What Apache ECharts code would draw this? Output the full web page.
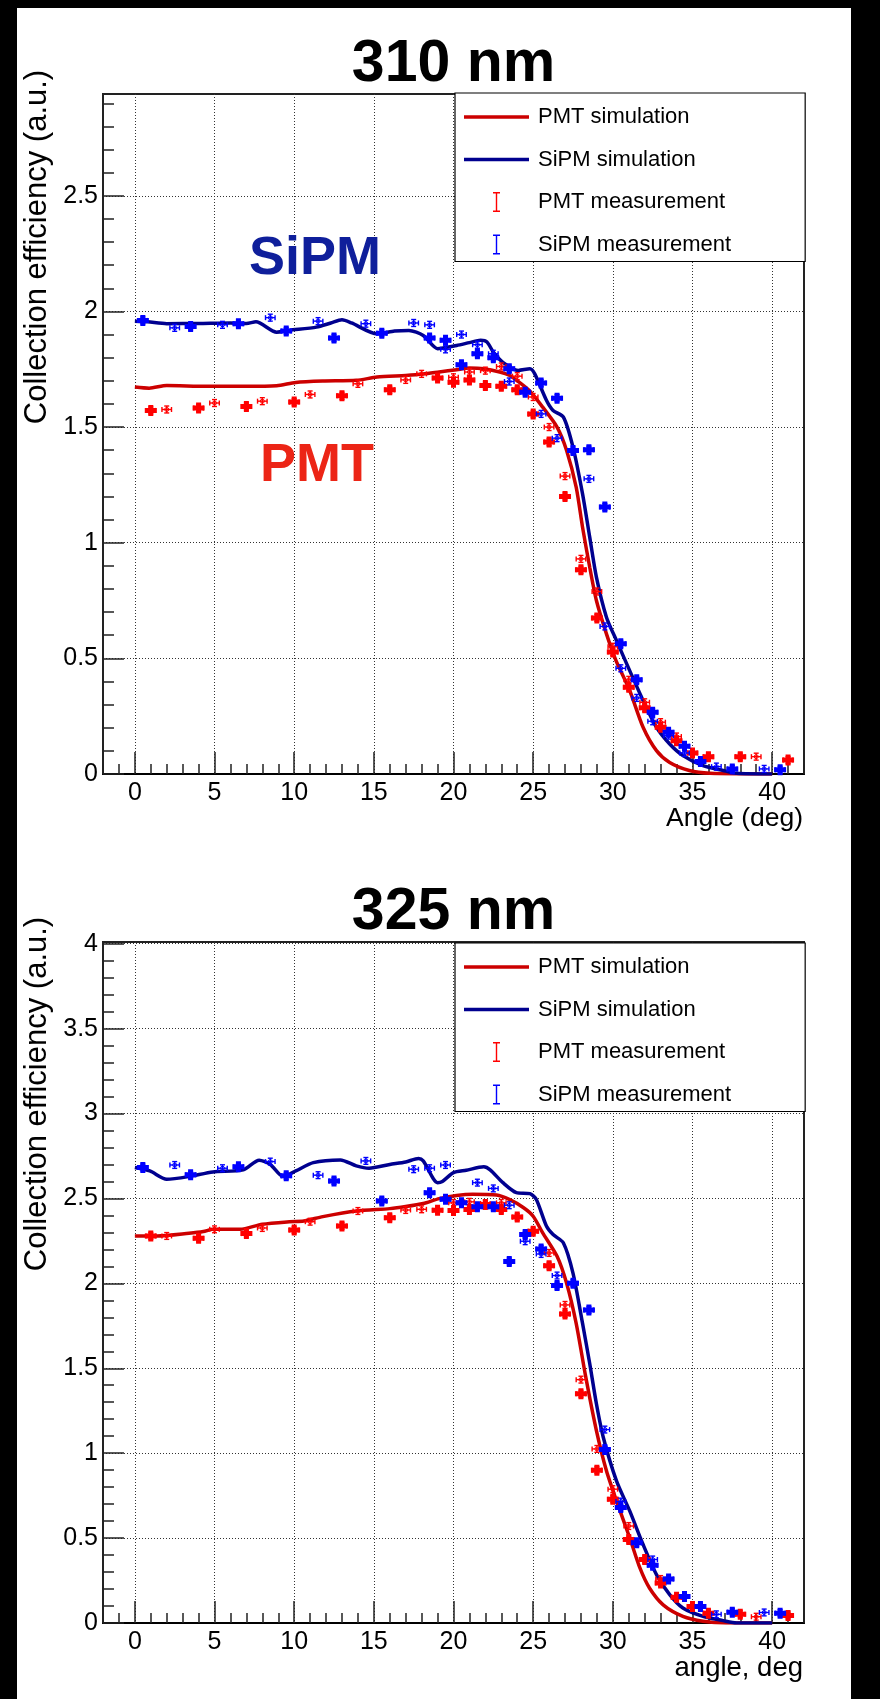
<!DOCTYPE html>
<html>
<head>
<meta charset="utf-8">
<title>Collection efficiency vs angle</title>
<script src="https://cdn.jsdelivr.net/npm/echarts@6/dist/echarts.min.js"></script>
<style>
  html, body { margin: 0; padding: 0; width: 880px; height: 1699px; background: #000; overflow: hidden; }
  #paper { position: absolute; left: 17px; top: 8px; width: 834px; height: 1691px; background: #fff; }
  #chart { position: absolute; left: 0; top: 0; width: 880px; height: 1699px; }
</style>
</head>
<body>
<div id="paper"></div>
<div id="chart"></div>
<script>
// ---------- axis ticks ----------
const angleMajor = [0, 5, 10, 15, 20, 25, 30, 35, 40];
const eff310Major = [0, 0.5, 1, 1.5, 2, 2.5];
const eff325Major = [0, 0.5, 1, 1.5, 2, 2.5, 3, 3.5, 4];

// ---------- 310 nm ----------
const pmtSim310 = [[0,1.673],[0.9,1.668],[2,1.68],[4.5,1.676],[7,1.676],[8.9,1.679],[10.1,1.693],[11.8,1.699],[13.9,1.702],[15.2,1.716],[17,1.723],[18.1,1.729],[19.1,1.738],[20.2,1.748],[21.0,1.755],[21.9,1.752],[22.9,1.738],[23.5,1.724],[24.0,1.700],[24.8,1.655],[25.6,1.586],[26.5,1.5],[27.1,1.399],[27.7,1.24],[28.1,1.067],[28.55,0.894],[28.97,0.75],[29.6,0.606],[30.2,0.49],[31.06,0.361],[31.9,0.202],[32.74,0.101],[33.57,0.05],[34.8,0.015],[36.1,0.003],[40,0]];
const sipmSim310 = [[0,1.958],[0.8,1.955],[2,1.947],[4,1.948],[6,1.950],[7.0,1.948],[7.6,1.955],[8.9,1.91],[9.7,1.918],[11.4,1.932],[12.3,1.950],[13.0,1.964],[13.6,1.950],[15.2,1.903],[16.3,1.915],[17.2,1.918],[18.1,1.896],[19.0,1.839],[20.2,1.853],[21.0,1.865],[21.7,1.875],[22.1,1.868],[22.5,1.824],[23.1,1.78],[24.06,1.745],[24.8,1.752],[25.1,1.73],[25.84,1.615],[26.25,1.572],[26.9,1.543],[27.5,1.413],[28.1,1.211],[28.55,1.024],[28.97,0.851],[29.6,0.678],[30.23,0.577],[31.06,0.447],[31.9,0.318],[32.74,0.202],[33.57,0.13],[34.4,0.08],[35.66,0.036],[36.92,0.015],[37.76,0.003],[40,0]];
const pmtMeasFilled310 = [[1,1.572],[4,1.582],[7,1.589],[10,1.608],[13,1.635],[16,1.661],[19,1.712],[20,1.694],[21,1.704],[22,1.68],[23,1.676],[24,1.661],[25,1.556],[26,1.435],[27,1.2],[28,0.883],[29,0.675],[30,0.527],[31,0.375],[32,0.286],[33,0.202],[34,0.144],[35,0.091],[36,0.075],[38,0.075],[41,0.06]];
const pmtMeasOpen310 = [[2,1.576],[5,1.604],[8,1.612],[11,1.641],[14,1.687],[17,1.704],[18,1.73],[20,1.715],[21,1.738],[22,1.744],[23,1.762],[24,1.72],[25,1.63],[26,1.5],[27,1.288],[28,0.93],[29,0.789],[30,0.55],[31,0.407],[32,0.31],[33,0.224],[34,0.162],[39,0.075]];
const sipmMeasFilled310 = [[0.5,1.961],[3.5,1.935],[6.5,1.947],[9.5,1.915],[12.5,1.885],[15.5,1.906],[18.5,1.885],[19.5,1.875],[20.5,1.769],[21.5,1.817],[22.5,1.80],[23.5,1.752],[24.5,1.651],[25.5,1.69],[26.5,1.625],[27.5,1.399],[28.5,1.402],[29.5,1.154],[30.5,0.563],[31.5,0.407],[32.5,0.267],[33.5,0.18],[34.5,0.12],[35.5,0.054],[37.5,0.022],[40.5,0.018]];
const sipmMeasOpen310 = [[2.5,1.929],[5.5,1.942],[8.5,1.973],[11.5,1.958],[14.5,1.947],[17.5,1.95],[18.5,1.942],[19.5,1.836],[20.5,1.9],[21.5,1.856],[22.5,1.817],[23.5,1.697],[25.5,1.557],[26.5,1.452],[28.5,1.276],[29.5,0.638],[30.5,0.457],[31.5,0.329],[32.5,0.228],[33.5,0.166],[34.5,0.091],[36.5,0.032],[39.5,0.022]];

// ---------- 325 nm ----------
const pmtSim325 = [[0,2.279],[1.4,2.279],[3.4,2.295],[4.3,2.305],[4.9,2.318],[6.6,2.318],[8,2.348],[9.7,2.363],[10.6,2.367],[11.8,2.393],[13.9,2.426],[16,2.44],[17,2.452],[18.1,2.47],[19.1,2.499],[20.2,2.517],[21.2,2.524],[22.7,2.52],[23.5,2.494],[24.4,2.445],[25,2.395],[25.6,2.297],[26.5,2.159],[27.1,2.0],[27.7,1.764],[28.3,1.449],[28.97,1.133],[29.6,0.896],[30.23,0.719],[31.06,0.502],[31.7,0.324],[32.3,0.206],[33.16,0.107],[34.4,0.039],[35.66,0.01],[37.1,0],[40,0]];
const sipmSim325 = [[0,2.682],[0.94,2.662],[2,2.613],[3.4,2.629],[4.9,2.656],[6.8,2.668],[7.8,2.725],[8.5,2.70],[9.3,2.629],[10.1,2.662],[11.2,2.711],[12.9,2.727],[13.9,2.692],[14.7,2.678],[16,2.70],[17,2.715],[17.8,2.735],[18.1,2.721],[19,2.593],[19.3,2.60],[20,2.652],[20.8,2.666],[21.9,2.686],[22.3,2.668],[23.1,2.593],[23.95,2.534],[24.8,2.528],[25.2,2.494],[25.84,2.336],[26.25,2.287],[26.9,2.238],[27.5,2.06],[28.1,1.764],[28.55,1.528],[28.97,1.291],[29.4,1.094],[30.23,0.837],[31.06,0.66],[31.9,0.462],[32.74,0.285],[33.57,0.167],[34.4,0.088],[35.66,0.039],[36.92,0.014],[37.76,0],[40,0]];
const pmtMeasFilled325 = [[1,2.279],[4,2.265],[7,2.293],[10,2.314],[13,2.338],[16,2.387],[19,2.43],[20,2.429],[21,2.435],[22,2.464],[23,2.435],[24,2.39],[25,2.307],[26,2.104],[27,1.82],[28,1.35],[29,0.9],[30,0.729],[31,0.492],[32,0.374],[33,0.236],[34,0.151],[35,0.097],[36,0.058],[38,0.052],[41,0.044]];
const pmtMeasOpen325 = [[2,2.279],[5,2.318],[8,2.326],[11,2.363],[14,2.426],[17,2.432],[18,2.436],[20,2.474],[21,2.48],[22,2.47],[23,2.474],[26,2.179],[27,1.873],[28,1.433],[29,1.025],[30,0.788],[31,0.571],[33,0.259],[39,0.037]];
const sipmMeasFilled325 = [[0.5,2.682],[3.5,2.639],[6.5,2.686],[9.5,2.633],[12.5,2.603],[15.5,2.485],[18.5,2.534],[19.5,2.495],[20.5,2.474],[21.5,2.451],[22.5,2.451],[23.5,2.129],[24.5,2.287],[25.5,2.202],[26.5,1.987],[27.5,2.001],[28.5,1.843],[29.5,1.021],[30.5,0.68],[31.5,0.472],[32.5,0.34],[33.5,0.259],[34.5,0.156],[35.5,0.097],[37.5,0.064],[40.5,0.058]];
const sipmMeasOpen325 = [[2.5,2.697],[5.5,2.678],[8.5,2.717],[11.5,2.637],[14.5,2.721],[17.5,2.672],[18.5,2.678],[19.5,2.697],[21.5,2.593],[22.5,2.559],[23.5,2.46],[24.5,2.248],[25.5,2.173],[26.5,2.046],[29.5,1.139],[30.5,0.715],[32.5,0.374],[36.5,0.051],[39.5,0.062]];

// ---------- styling ----------
const FONT = "'Liberation Sans', Arial, Helvetica, sans-serif";
const PMT_LINE = '#cc0000', SIPM_LINE = '#00008f';
const PMT_MEAS = '#ff0000', SIPM_MEAS = '#0000ff';
const X_ERR = 0.3;                      // horizontal error bar half-width (deg)
const CROSS = [[-2.5,-5.5],[2.5,-5.5],[2.5,-2.5],[6,-2.5],[6,2.5],[2.5,2.5],[2.5,5.5],[-2.5,5.5],[-2.5,2.5],[-6,2.5],[-6,-2.5],[-2.5,-2.5]];
// legend glyphs, padded to the 65x20 legend slot
const IBEAM = 'path://M0,10L0.01,10M65,10L64.99,10M29,0h7v1.4h-2.8v17.2h2.8v1.4h-7v-1.4h2.8v-17.2h-2.8z';
const LINE_ICON = 'path://M0,0L0.01,0M0,20L0.01,20M0,8.2h65v3.6h-65z';

const minorAngle = [];
for (let a = -2; a <= 42; a++) if (a % 5 !== 0) minorAngle.push(a);
function minorEff(top) {
  const out = [];
  for (let i = 1; i * 0.1 <= top + 1e-9; i++) if (i % 5 !== 0) out.push(+(i * 0.1).toFixed(1));
  return out;
}

const frames = [
  { top: 94,  height: 680, yMax: 2.94, major: eff310Major, minor: minorEff(2.94), xName: 'Angle (deg)', xNameSize: 26.5, yNameY: 247 },
  { top: 942, height: 681, yMax: 4.01, major: eff325Major, minor: minorEff(4.01), xName: 'angle, deg',  xNameSize: 27.5, yNameY: 1094 }
];

const grid = [], xAxis = [], yAxis = [], axisTitles = [];
frames.forEach((f, i) => {
  grid.push({ left: 103, top: f.top, width: 701, height: f.height, show: true,
              borderColor: '#222', borderWidth: 2, backgroundColor: 'transparent',
              containLabel: false, outerBoundsMode: 'none' });
  // main x axis: labels, major ticks, grid lines
  xAxis.push({
    gridIndex: i, type: 'value', min: -2, max: 42, position: 'bottom',
    axisLine: { show: true, onZero: false, lineStyle: { color: '#000', width: 2 } },
    axisTick: { show: true, inside: true, length: 22, customValues: angleMajor, lineStyle: { color: '#222', width: 1.5 } },
    axisLabel: { show: true, customValues: angleMajor, margin: 7, fontSize: 25, color: '#000', fontFamily: FONT },
    splitLine: { show: true, lineStyle: { color: '#333', width: 1, type: [1, 2] } }
  });
  // companion x axis carrying the 1-degree minor ticks
  xAxis.push({
    gridIndex: i, type: 'value', min: -2, max: 42, position: 'bottom',
    axisLine: { show: false, onZero: false },
    axisTick: { show: true, inside: true, length: 10, customValues: minorAngle, lineStyle: { color: '#222', width: 1.5 } },
    axisLabel: { show: false }, splitLine: { show: false }
  });
  yAxis.push({
    gridIndex: i, type: 'value', min: 0, max: f.yMax, position: 'left',
    axisLine: { show: true, onZero: false, lineStyle: { color: '#222', width: 2 } },
    axisTick: { show: true, inside: true, length: 21, customValues: f.major, lineStyle: { color: '#222', width: 1.5 } },
    axisLabel: { show: true, customValues: f.major, margin: 5, fontSize: 25, color: '#000', fontFamily: FONT },
    splitLine: { show: true, lineStyle: { color: '#333', width: 1, type: [1, 2] } }
  });
  yAxis.push({
    gridIndex: i, type: 'value', min: 0, max: f.yMax, position: 'left',
    axisLine: { show: false, onZero: false },
    axisTick: { show: true, inside: true, length: 11, customValues: f.minor, lineStyle: { color: '#222', width: 1.5 } },
    axisLabel: { show: false }, splitLine: { show: false }
  });
  // axis titles, ROOT style: x title right-aligned under the frame, y title rotated at the left
  axisTitles.push({
    type: 'text', x: 803, y: f.top + f.height + 45, silent: true,
    style: { text: f.xName, fill: '#000', font: f.xNameSize + "px 'Liberation Sans', Arial, sans-serif", textAlign: 'right', textVerticalAlign: 'middle' }
  });
  axisTitles.push({
    type: 'text', x: 37, y: f.yNameY, rotation: Math.PI / 2, silent: true,
    style: { text: 'Collection efficiency (a.u.)', fill: '#000', font: "31px 'Liberation Sans', Arial, sans-serif", textAlign: 'center', textVerticalAlign: 'middle' }
  });
});

function simSeries(name, data, color, gi) {
  return { name, type: 'line', xAxisIndex: gi * 2, yAxisIndex: gi * 2, data, symbol: 'none', showSymbol: false,
           smooth: 0.25, lineStyle: { color, width: 3.5 }, itemStyle: { color }, z: 2, silent: true };
}

function measSeries(name, filledPts, openPts, yErr, color, gi) {
  const data = filledPts.map(p => [p[0], p[1], 1]).concat(openPts.map(p => [p[0], p[1], 0]));
  return {
    name, type: 'custom', xAxisIndex: gi * 2, yAxisIndex: gi * 2, data, z: 3, silent: true,
    itemStyle: { color }, encode: { x: 0, y: 1 },
    renderItem(params, api) {
      const x = api.value(0), y = api.value(1), filled = api.value(2);
      const c = api.coord([x, y]);
      const l = api.coord([x - X_ERR, y]), r = api.coord([x + X_ERR, y]);
      const t = api.coord([x, y + yErr]), b = api.coord([x, y - yErr]);
      const st = { stroke: color, lineWidth: 1.4 };
      const ch = [
        { type: 'line', shape: { x1: l[0], y1: c[1], x2: r[0], y2: c[1] }, style: st },
        { type: 'line', shape: { x1: l[0], y1: c[1] - 2.5, x2: l[0], y2: c[1] + 2.5 }, style: st },
        { type: 'line', shape: { x1: r[0], y1: c[1] - 2.5, x2: r[0], y2: c[1] + 2.5 }, style: st },
        { type: 'line', shape: { x1: c[0], y1: t[1], x2: c[0], y2: b[1] }, style: st },
        { type: 'line', shape: { x1: c[0] - 2.5, y1: t[1], x2: c[0] + 2.5, y2: t[1] }, style: st },
        { type: 'line', shape: { x1: c[0] - 2.5, y1: b[1], x2: c[0] + 2.5, y2: b[1] }, style: st }
      ];
      if (filled) {
        ch.push({ type: 'polygon', shape: { points: CROSS.map(d => [c[0] + d[0], c[1] + d[1]]) }, style: { fill: color } });
      } else {
        ch.push({ type: 'circle', shape: { cx: c[0], cy: c[1], r: 2 }, style: { fill: 'none', stroke: color, lineWidth: 1 } });
      }
      return { type: 'group', children: ch };
    }
  };
}

const series = [
  simSeries('PMT simulation', pmtSim310, PMT_LINE, 0),
  simSeries('SiPM simulation', sipmSim310, SIPM_LINE, 0),
  measSeries('PMT measurement', pmtMeasFilled310, pmtMeasOpen310, 0.015, PMT_MEAS, 0),
  measSeries('SiPM measurement', sipmMeasFilled310, sipmMeasOpen310, 0.015, SIPM_MEAS, 0),
  simSeries('PMT simulation', pmtSim325, PMT_LINE, 1),
  simSeries('SiPM simulation', sipmSim325, SIPM_LINE, 1),
  measSeries('PMT measurement', pmtMeasFilled325, pmtMeasOpen325, 0.02, PMT_MEAS, 1),
  measSeries('SiPM measurement', sipmMeasFilled325, sipmMeasOpen325, 0.02, SIPM_MEAS, 1)
];

const legendData = [
  { name: 'PMT simulation', icon: LINE_ICON, itemStyle: { color: PMT_LINE } },
  { name: 'SiPM simulation', icon: LINE_ICON, itemStyle: { color: SIPM_LINE } },
  { name: 'PMT measurement', icon: IBEAM, itemStyle: { color: PMT_MEAS } },
  { name: 'SiPM measurement', icon: IBEAM, itemStyle: { color: SIPM_MEAS } }
];
const legend = [93, 943].map(top => ({
  left: 455, top, orient: 'vertical', selectedMode: false,
  backgroundColor: '#fff', borderColor: '#000', borderWidth: 1.2, borderRadius: 0,
  padding: [13, 74, 6, 9], itemGap: 20.5, itemWidth: 65, itemHeight: 20,
  textStyle: { fontSize: 22, color: '#000', fontFamily: FONT, lineHeight: 22, padding: [0, 0, 0, 4] },
  data: legendData
}));

const title = [
  { text: '310 nm', left: 453.5, top: 35 },
  { text: '325 nm', left: 453.5, top: 883 }
].map(t => Object.assign(t, { textAlign: 'center', padding: 0,
  textStyle: { fontSize: 59, fontWeight: 'bold', color: '#000', fontFamily: FONT, lineHeight: 59 } }));

const chart = echarts.init(document.getElementById('chart'), null, { renderer: 'canvas' });
chart.setOption({
  animation: false,
  backgroundColor: 'transparent',
  title, legend, grid, xAxis, yAxis, series,
  graphic: axisTitles.concat([
    { type: 'text', x: 315, y: 259, z: 10, silent: true,
      style: { text: 'SiPM', fill: '#0f1f9b', font: "bold 54px 'Liberation Sans', Arial, sans-serif", textAlign: 'center', textVerticalAlign: 'middle' } },
    { type: 'text', x: 317, y: 466, z: 10, silent: true,
      style: { text: 'PMT', fill: '#ec2516', font: "bold 54px 'Liberation Sans', Arial, sans-serif", textAlign: 'center', textVerticalAlign: 'middle' } }
  ])
});
</script>
</body>
</html>
